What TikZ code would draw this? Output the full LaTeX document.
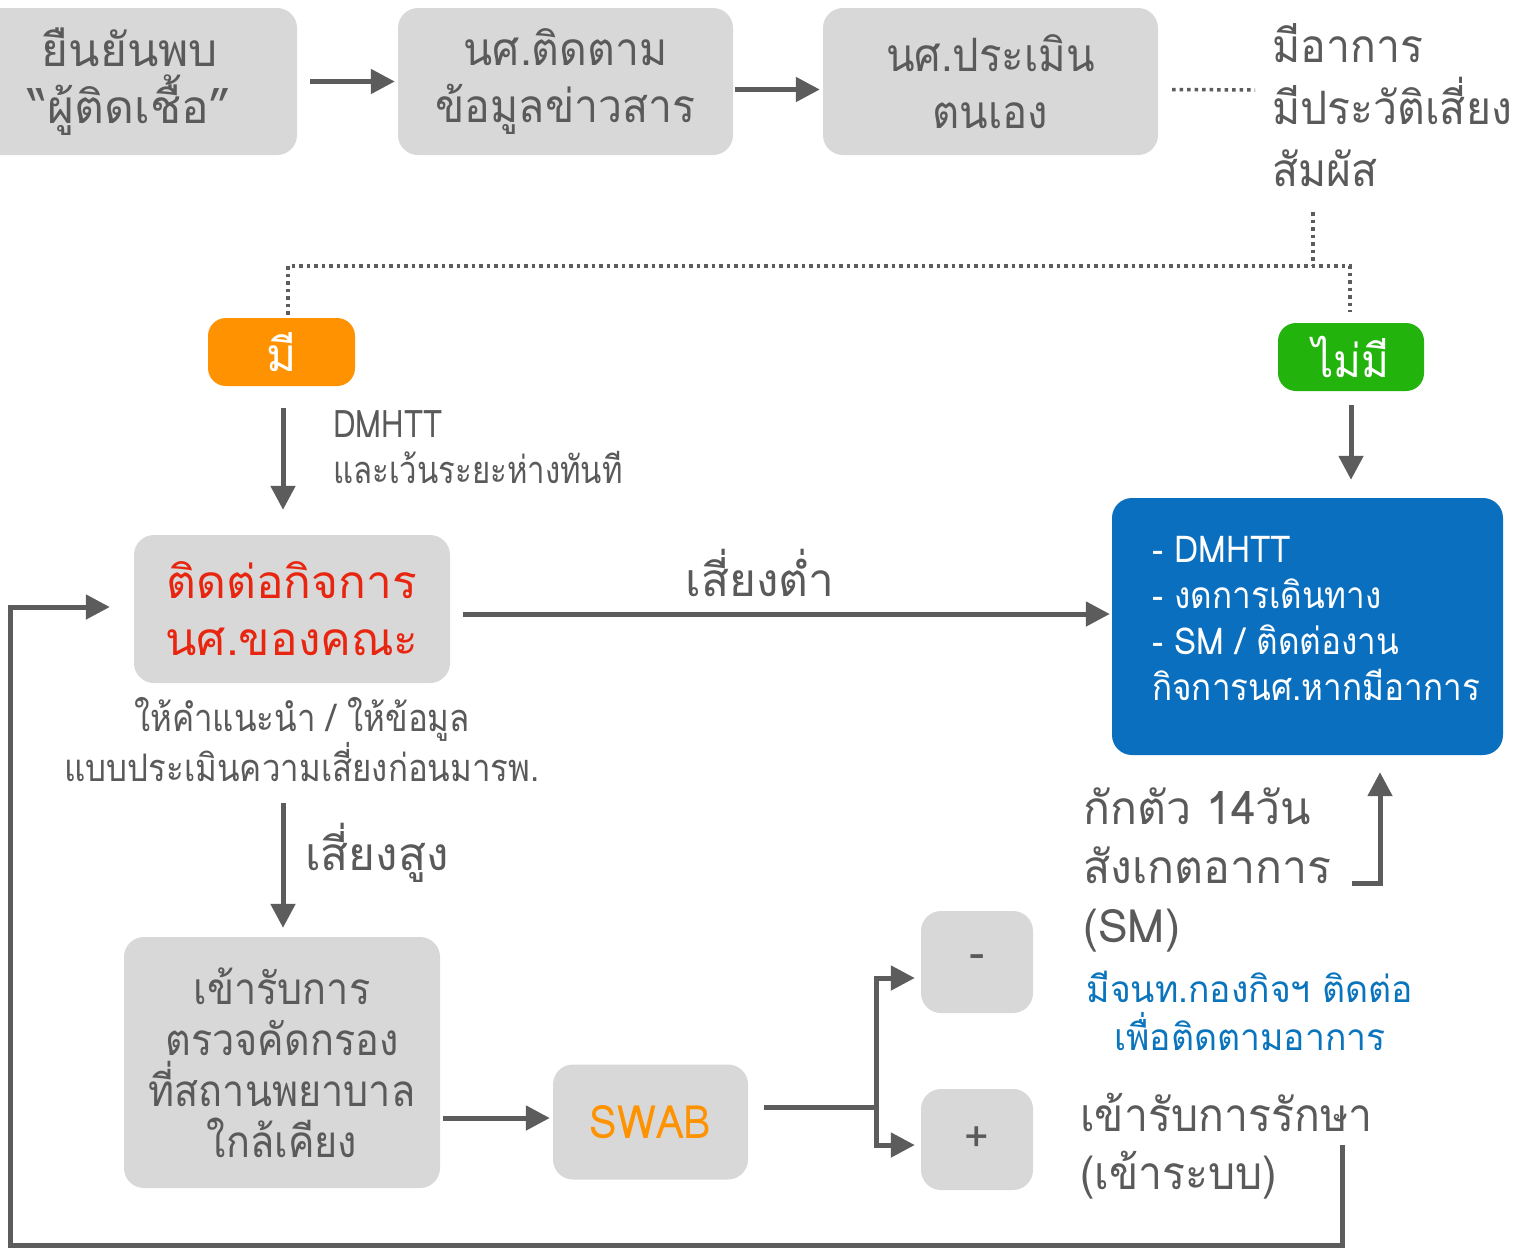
\documentclass[tikz,border=0pt]{standalone}
\usepackage{fontspec}
\setmainfont{Loma}[Script=Thai]
\usetikzlibrary{arrows.meta,calc}
\definecolor{boxgray}{HTML}{D8D8D8}
\definecolor{txtgray}{HTML}{5A5A5A}
\definecolor{linegray}{HTML}{5C5C5C}
\definecolor{myred}{HTML}{E8250F}
\definecolor{myorange}{HTML}{FF9200}
\definecolor{mygreen}{HTML}{22B30D}
\definecolor{myblue}{HTML}{0A6FBE}
\definecolor{bluetext}{HTML}{0A74BC}
\newcommand{\fbig}{\fontsize{46}{57}\selectfont}
\newcommand{\fmid}{\fontsize{38}{46}\selectfont}
\newcommand{\fst}[1]{\addfontfeatures{FakeStretch=#1}}
\begin{document}
\begin{tikzpicture}[x=1pt,y=-1pt,
  gbox/.style={fill=boxgray, rounded corners=20pt, draw=none, text=txtgray, align=center, inner sep=0pt, font=\fbig},
  arr/.style={draw=linegray, line width=5pt, -{Triangle[length=24pt,width=24pt]}},
  plain/.style={draw=linegray, line width=5pt},
  dots/.style={draw=linegray, line width=3.5pt, dash pattern=on 3.5pt off 4pt},
  lbl/.style={text=txtgray, inner sep=0pt}
]
\useasboundingbox (0,0) rectangle (1522,1248);
\fill[white] (0,0) rectangle (1522,1248);

% top row
\node[gbox, minimum width=334pt, minimum height=147pt] (b1) at (130,81.5) {ยืนยันพบ\\“ผู้ติดเชื้อ”};
\node[gbox, minimum width=335pt, minimum height=147pt, font=\fst{0.93}\fbig] (b2) at (565.5,81.5) {นศ.ติดตาม\\ข้อมูลข่าวสาร};
\node[gbox, minimum width=335pt, minimum height=147pt, font=\fst{0.91}\fbig] (b3) at (990.5,81.5) {นศ.ประเมิน\\ตนเอง};
\node[lbl, anchor=west, align=left, font=\fst{0.93}\fontsize{46}{62}\selectfont] (rt) at (1272,105) {มีอาการ\\มีประวัติเสี่ยง\\สัมผัส};

\draw[arr] ($(b1.east)+(13,0)$) -- ($(b2.west)+(-3,0)$);
\draw[arr] ($(b2.east)+(2,8)$) -- ($(b3.west)+(-3,8)$);
\draw[dots] ($(b3.east)+(14,8)$) -- ($(rt.west)+(-17,-15)$);

% dotted branch
\coordinate (j) at (1313,266);
\draw[dots] (1313,212) -- (j);

\node[fill=myorange, rounded corners=18pt, minimum width=147pt, minimum height=68pt, inner sep=0pt, text=white, font=\fbig] (yes) at (281.5,352) {มี};
\node[fill=mygreen, rounded corners=18pt, minimum width=146pt, minimum height=68pt, inner sep=0pt, text=white, font=\fst{0.92}\fbig] (no) at (1351,357) {ไม่มี};

\draw[dots] ($(yes.north)+(6.5,-3)$) |- (j) -| ($(no.north)+(-1,-11)$);

% middle
\node[gbox, minimum width=316pt, minimum height=148pt, text=myred] (red) at (292,609) {ติดต่อกิจการ\\นศ.ของคณะ};
\node[fill=myblue, rounded corners=20pt, minimum width=391pt, minimum height=257pt, inner sep=0pt] (blue) at (1307.5,626.5) {};
\node[anchor=west, align=left, text=white, inner sep=0pt, font=\fst{0.9}\fontsize{37}{46}\selectfont] (bt) at (1152,618) {- DMHTT\\- งดการเดินทาง\\- SM / ติดต่องาน\\กิจการนศ.หากมีอาการ};

\node[lbl, anchor=west, align=left, font=\fst{0.82}\fmid] (dm) at (333,447) {DMHTT\\และเว้นระยะห่างทันที};
\draw[arr] ($(yes.south)+(1.5,22)$) -- ($(yes.south |- red.north)+(1.5,-25)$);
\draw[arr] ($(no.south)+(0,14)$) -- ($(no.south |- blue.north)+(0,-18)$);

\coordinate (rs) at ($(red.east)+(13,5)$);
\draw[arr] (rs) -- ($(rs -| blue.west)+(-2,0)$);
\node[lbl, font=\fbig] (low) at (760,573) {เสี่ยงต่ำ};

\node[lbl, align=center, font=\fst{0.87}\fmid] (advice) at (302,740) {ให้คำแนะนำ / ให้ข้อมูล\\แบบประเมินความเสี่ยงก่อนมารพ.};

% bottom
\node[gbox, minimum width=316pt, minimum height=251pt, font=\fst{0.9}\fontsize{44}{51}\selectfont] (scr) at (282,1062.5) {เข้ารับการ\\ตรวจคัดกรอง\\ที่สถานพยาบาล\\ใกล้เคียง};
\draw[arr] ($(red.south)+(-9,120)$) -- ($(red.south |- scr.north)+(-9,-9)$);
\node[lbl, anchor=west, font=\fbig] (high) at (305,853) {เสี่ยงสูง};

\node[gbox, minimum width=195pt, minimum height=115pt, text=myorange, font=\fst{0.9}\fbig] (swab) at (650.5,1122) {SWAB};
\draw[arr] ($(scr.east)+(3,55.5)$) -- ($(scr.east -| swab.west)+(-3,55.5)$);

\node[gbox, minimum width=112pt, minimum height=102pt, font=\fontsize{46}{50}\selectfont] (minus) at (977,962) {-};
\node[gbox, minimum width=112pt, minimum height=101pt, font=\fontsize{42}{46}\selectfont] (plus) at (977,1139.5) {+};

\coordinate (fork) at (876,1107);
\draw[plain] ($(swab.east)+(16,-15)$) -- (fork);
\draw[arr] (fork) |- ($(minus.west)+(-6,16)$);
\draw[arr] (fork) |- ($(plus.west)+(-6,5.5)$);

\node[lbl, anchor=west, align=left, font=\fst{0.97}\fontsize{46}{59}\selectfont] (sm) at (1083,870) {กักตัว 14วัน\\สังเกตอาการ\\(SM)};
\coordinate (u1) at (1352,883);
\draw[arr] (u1) -| ($(blue.south)+(72.5,17)$);

\node[align=center, text=bluetext, inner sep=0pt, font=\fst{0.96}\fontsize{37}{48}\selectfont] (staff) at (1250,1011) {มีจนท.กองกิจฯ ติดต่อ\\เพื่อติดตามอาการ};

\node[lbl, anchor=west, align=left, font=\fst{0.93}\fontsize{46}{58}\selectfont] (treat) at (1080,1146) {เข้ารับการรักษา\\(เข้าระบบ)};

\coordinate (fb) at (1342,1145);
\draw[arr] (fb) |- (10,1245) |- ($(red.west)+(-24,-2)$);
\end{tikzpicture}
\end{document}
